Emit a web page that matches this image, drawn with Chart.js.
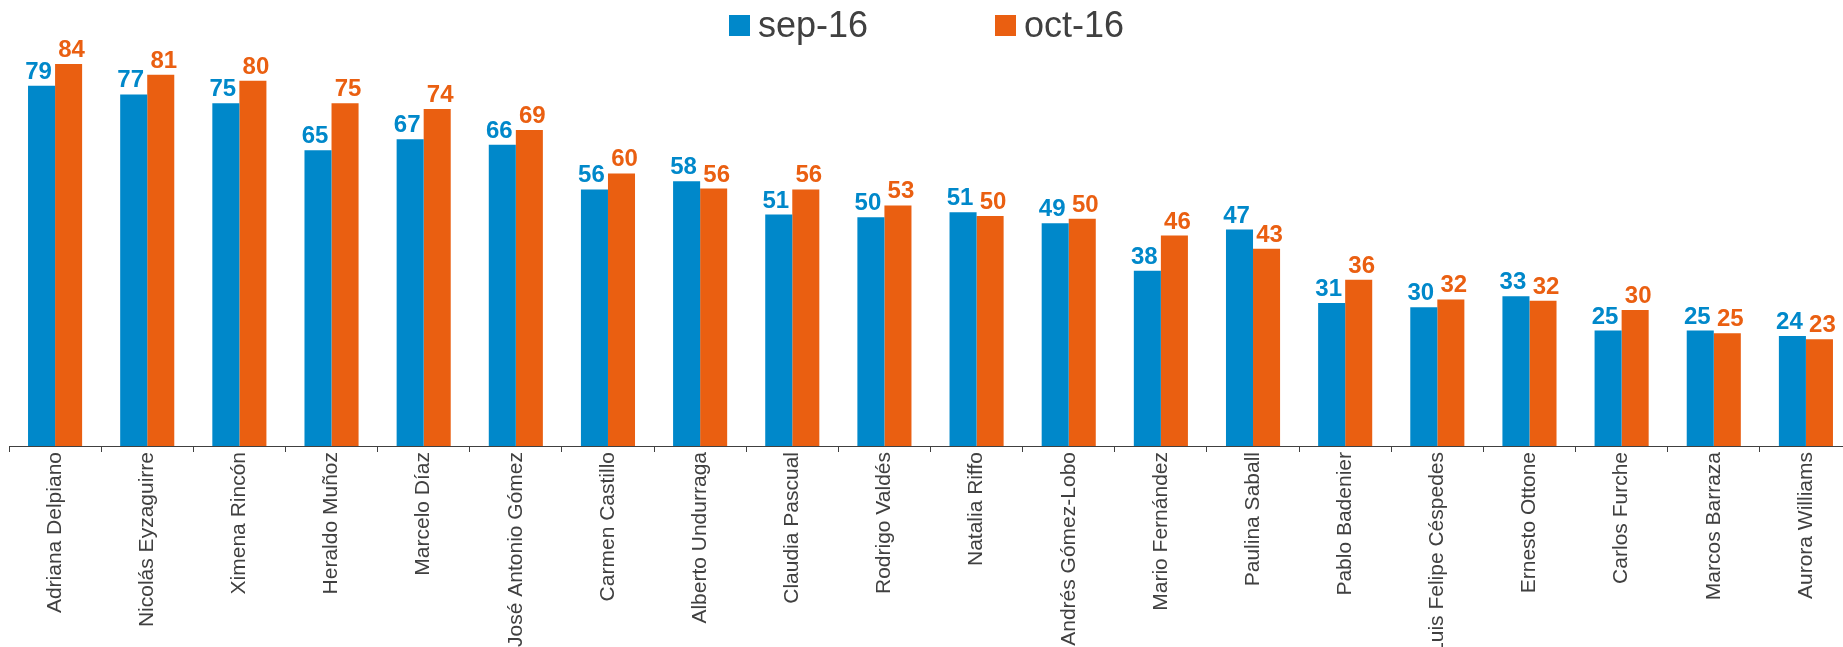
<!DOCTYPE html>
<html>
<head>
<meta charset="utf-8">
<script src="https://cdn.jsdelivr.net/npm/chart.js@4.4.1/dist/chart.umd.min.js"></script>
<style>
  html, body { margin: 0; padding: 0; background: #fff; overflow: hidden; }
  #wrap { position: relative; width: 1852px; height: 647px; }
  #chart { position: absolute; left: 0; top: 0; }
  .lg-item { position: absolute; top: 0; height: 50px; display: flex; align-items: center;
    font-family: 'Liberation Sans', Arial, sans-serif; font-size: 36px; line-height: 1; color: #404040; }
  .lg-box { width: 21px; height: 21px; margin-right: 8px; }
</style>
</head>
<body>
<div id="wrap">
  <canvas id="chart" width="1852" height="647"></canvas>
  <div id="legend"></div>
</div>
<script>
const names = [
  'Adriana Delpiano', 'Nicolás Eyzaguirre', 'Ximena Rincón', 'Heraldo Muñoz', 'Marcelo Díaz',
  'José Antonio Gómez', 'Carmen Castillo', 'Alberto Undurraga', 'Claudia Pascual', 'Rodrigo Valdés',
  'Natalia Riffo', 'Andrés Gómez-Lobo', 'Mario Fernández', 'Paulina Saball', 'Pablo Badenier',
  'Luis Felipe Céspedes', 'Ernesto Ottone', 'Carlos Furche', 'Marcos Barraza', 'Aurora Williams'
];
const sep16 = [78.9, 77.0, 75.1, 64.8, 67.2, 66.0, 56.2, 58.0, 50.7, 50.1, 51.2, 48.8, 38.4, 47.4, 31.3, 30.4, 32.8, 25.3, 25.3, 24.1];
const oct16 = [83.7, 81.3, 80.0, 75.1, 73.8, 69.2, 59.7, 56.4, 56.2, 52.7, 50.4, 49.8, 46.1, 43.2, 36.4, 32.1, 31.8, 29.8, 24.7, 23.4];

const BLUE = '#0088CA';
const ORANGE = '#EA5F11';
const FONT = "'Liberation Sans', Arial, sans-serif";

// value labels above bars, nudged a bit outward so the pairs don't touch
const valueLabels = {
  id: 'valueLabels',
  afterDatasetsDraw(chart) {
    const ctx = chart.ctx;
    ctx.save();
    ctx.font = 'bold 24px ' + FONT;
    ctx.textAlign = 'center';
    ctx.textBaseline = 'alphabetic';
    chart.data.datasets.forEach((ds, i) => {
      const meta = chart.getDatasetMeta(i);
      const dx = i === 0 ? -3 : 3;
      ctx.fillStyle = ds.backgroundColor;
      meta.data.forEach((bar, j) => {
        ctx.fillText(Math.round(ds.data[j]), bar.x + dx, bar.y - 7);
      });
    });
    ctx.restore();
  },
};

const datasets = [
  { label: 'sep-16', data: sep16, backgroundColor: BLUE },
  { label: 'oct-16', data: oct16, backgroundColor: ORANGE },
];

// html legend
const legendPos = [729, 995];
const legendEl = document.getElementById('legend');
datasets.forEach((ds, i) => {
  const item = document.createElement('div');
  item.className = 'lg-item';
  item.style.left = legendPos[i] + 'px';
  item.innerHTML = '<span class="lg-box" style="background:' + ds.backgroundColor + '"></span><span>' + ds.label + '</span>';
  legendEl.appendChild(item);
});

new Chart(document.getElementById('chart').getContext('2d'), {
  type: 'bar',
  data: {
    labels: names,
    datasets: datasets.map(ds => ({
      ...ds,
      borderWidth: 0,
      barPercentage: 1,
      categoryPercentage: 0.587,
    })),
  },
  options: {
    responsive: false,
    animation: false,
    layout: { padding: { left: 9, right: 0, top: 0, bottom: 0 } },
    scales: {
      x: {
        grid: { display: true, drawOnChartArea: false, drawTicks: true, tickLength: 6, offset: true, color: '#404040' },
        border: { display: true, color: '#404040', width: 1 },
        ticks: {
          autoSkip: false, maxRotation: 90, minRotation: 90, padding: 0,
          color: '#404040', font: { family: FONT, size: 21 },
        },
        afterFit: scale => { scale.height = 201; },
      },
      y: { display: false, min: 0, max: 97.7 },
    },
    plugins: {
      legend: { display: false },
      tooltip: { enabled: false },
    },
  },
  plugins: [valueLabels],
});
</script>
</body>
</html>
